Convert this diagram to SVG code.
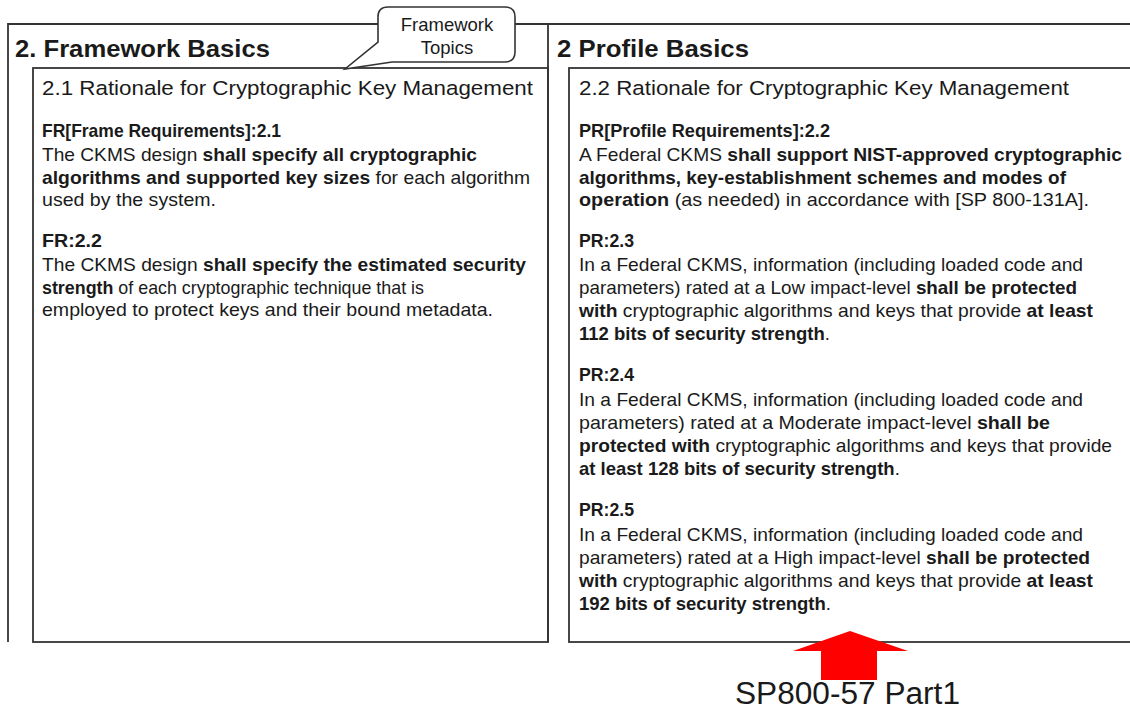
<svg xmlns="http://www.w3.org/2000/svg" width="1130" height="710" viewBox="0 0 1130 710">
  <style>
    .frame { fill: none; stroke: #333; stroke-width: 1.8; }
    .t { font-family: "Liberation Sans", Arial, sans-serif; fill: #1a1a1a; }
    .h1 { font-size: 24px; font-weight: bold; }
    .h2 { font-size: 20.5px; }
    .b { font-size: 18.5px; }
    .bold { font-weight: bold; }
    .callout { fill: #fff; stroke: #333; stroke-width: 1.6; }
    .co { font-size: 18.5px; }
  </style>

  <rect width="1130" height="710" fill="#fff"/>

  <!-- panel outlines -->
  <g id="connectors">
    <path class="frame" d="M8,642 V24 H548 V642 M548,24 H1131"/>
  </g>

  <!-- left column: framework -->
  <g id="framework-basics">
    <rect class="frame" x="33" y="68" width="515" height="574"/>
    <text class="t h1" x="15" y="57" textLength="255" lengthAdjust="spacingAndGlyphs">2. Framework Basics</text>
    <text class="t h2" x="42" y="95" textLength="491" lengthAdjust="spacingAndGlyphs">2.1 Rationale for Cryptographic Key Management</text>

    <g class="t b">
      <text class="bold" x="42" y="137" textLength="239" lengthAdjust="spacingAndGlyphs">FR[Frame Requirements]:2.1</text>
      <text x="42" y="161" textLength="435" lengthAdjust="spacingAndGlyphs">The CKMS design <tspan class="bold">shall specify all cryptographic</tspan></text>
      <text x="42" y="184" textLength="488" lengthAdjust="spacingAndGlyphs"><tspan class="bold">algorithms and supported key sizes</tspan> for each algorithm</text>
      <text x="42" y="206" textLength="174" lengthAdjust="spacingAndGlyphs">used by the system.</text>

      <text class="bold" x="42" y="247" textLength="60" lengthAdjust="spacingAndGlyphs">FR:2.2</text>
      <text x="42" y="271" textLength="484" lengthAdjust="spacingAndGlyphs">The CKMS design <tspan class="bold">shall specify the estimated security</tspan></text>
      <text x="42" y="294" textLength="382" lengthAdjust="spacingAndGlyphs"><tspan class="bold">strength</tspan> of each cryptographic technique that is</text>
      <text x="42" y="316" textLength="451" lengthAdjust="spacingAndGlyphs">employed to protect keys and their bound metadata.</text>
    </g>
  </g>

  <!-- right column: profile -->
  <g id="profile-basics">
    <rect class="frame" x="569" y="68" width="565" height="574"/>
    <text class="t h1" x="557" y="57" textLength="192" lengthAdjust="spacingAndGlyphs">2 Profile Basics</text>
    <text class="t h2" x="579" y="95" textLength="490" lengthAdjust="spacingAndGlyphs">2.2 Rationale for Cryptographic Key Management</text>

    <g class="t b">
      <text class="bold" x="579" y="137" textLength="251" lengthAdjust="spacingAndGlyphs">PR[Profile Requirements]:2.2</text>
      <text x="579" y="161" textLength="543" lengthAdjust="spacingAndGlyphs">A Federal CKMS <tspan class="bold">shall support NIST-approved cryptographic</tspan></text>
      <text class="bold" x="579" y="184" textLength="487" lengthAdjust="spacingAndGlyphs">algorithms, key-establishment schemes and modes of</text>
      <text x="579" y="206" textLength="510" lengthAdjust="spacingAndGlyphs"><tspan class="bold">operation</tspan> (as needed) in accordance with [SP 800-131A].</text>

      <text class="bold" x="579" y="247" textLength="55" lengthAdjust="spacingAndGlyphs">PR:2.3</text>
      <text x="579" y="271" textLength="504" lengthAdjust="spacingAndGlyphs">In a Federal CKMS, information (including loaded code and</text>
      <text x="579" y="294" textLength="498" lengthAdjust="spacingAndGlyphs">parameters) rated at a Low impact-level <tspan class="bold">shall be protected</tspan></text>
      <text x="579" y="317" textLength="514" lengthAdjust="spacingAndGlyphs"><tspan class="bold">with</tspan> cryptographic algorithms and keys that provide <tspan class="bold">at least</tspan></text>
      <text x="579" y="340"><tspan class="bold">112 bits of security strength</tspan>.</text>

      <text class="bold" x="579" y="381" textLength="55" lengthAdjust="spacingAndGlyphs">PR:2.4</text>
      <text x="579" y="406" textLength="504" lengthAdjust="spacingAndGlyphs">In a Federal CKMS, information (including loaded code and</text>
      <text x="579" y="429" textLength="471" lengthAdjust="spacingAndGlyphs">parameters) rated at a Moderate impact-level <tspan class="bold">shall be</tspan></text>
      <text x="579" y="452" textLength="533" lengthAdjust="spacingAndGlyphs"><tspan class="bold">protected with</tspan> cryptographic algorithms and keys that provide</text>
      <text x="579" y="475"><tspan class="bold">at least 128 bits of security strength</tspan>.</text>

      <text class="bold" x="579" y="516" textLength="55" lengthAdjust="spacingAndGlyphs">PR:2.5</text>
      <text x="579" y="541" textLength="504" lengthAdjust="spacingAndGlyphs">In a Federal CKMS, information (including loaded code and</text>
      <text x="579" y="564" textLength="511" lengthAdjust="spacingAndGlyphs">parameters) rated at a High impact-level <tspan class="bold">shall be protected</tspan></text>
      <text x="579" y="587" textLength="514" lengthAdjust="spacingAndGlyphs"><tspan class="bold">with</tspan> cryptographic algorithms and keys that provide <tspan class="bold">at least</tspan></text>
      <text x="579" y="610"><tspan class="bold">192 bits of security strength</tspan>.</text>
    </g>
  </g>

  <!-- speech-bubble label over the left column -->
  <g id="framework-topics">
    <path class="callout" d="M388,7 H505 Q515,7 515,17 V52 Q515,62 505,62 H392 L345,69 L378,42 V17 Q378,7 388,7 Z"/>
    <text class="t co" x="447" y="31" text-anchor="middle">Framework</text>
    <text class="t co" x="447" y="54" text-anchor="middle">Topics</text>
  </g>

  <!-- source marker -->
  <g id="sp800-57">
    <polygon points="850,631 908,651 877,651 877,680 821,680 821,651 793,651" fill="#ff0000"/>
    <text class="t" x="735" y="704" font-size="31" textLength="225" lengthAdjust="spacingAndGlyphs">SP800-57 Part1</text>
  </g>
</svg>
